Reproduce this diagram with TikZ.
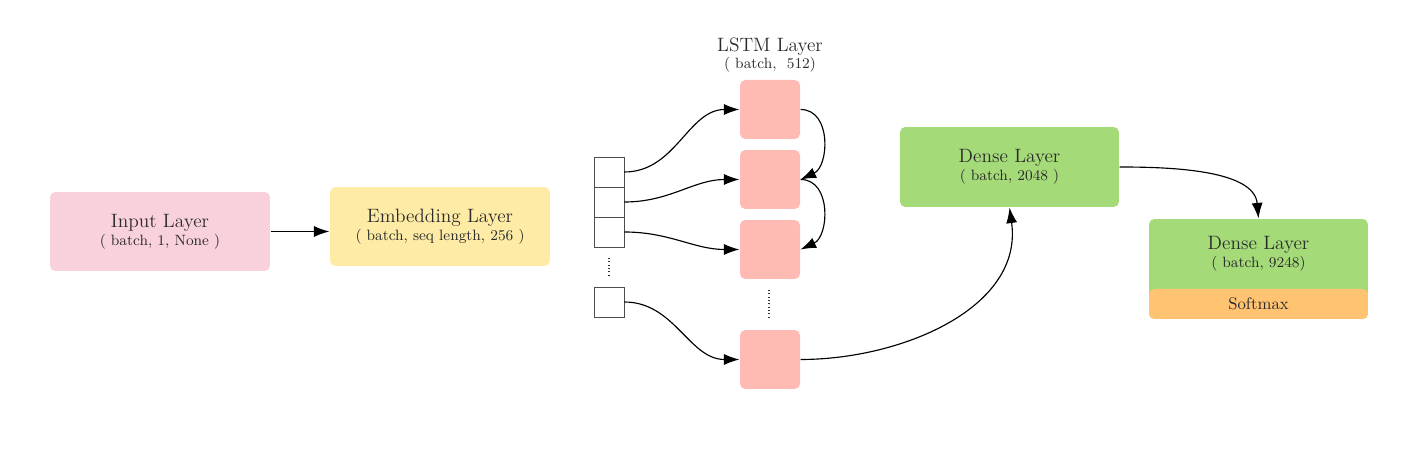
\documentclass[tikz,border=0pt]{standalone}
\usepackage{tikz}
\usetikzlibrary{arrows.meta, positioning, shapes}
\definecolor{inputpink}{HTML}{F9D1DC}
\definecolor{embedyellow}{HTML}{FEEBA5}
\definecolor{lstmred}{HTML}{FFBBB3}
\definecolor{densegreen}{HTML}{A5DA79}
\definecolor{softorange}{HTML}{FFC372}
\definecolor{txtgray}{HTML}{2A2A2A}
\tikzstyle{layer} = [rectangle, rounded corners=3pt, draw=none, align=center,
    text=txtgray, font=\fontsize{11}{11}\selectfont,
    minimum width=4.4cm, minimum height=1.58cm, inner sep=0pt]
\tikzstyle{cell} = [rectangle, rounded corners=3pt, fill=lstmred,
    minimum width=1.2cm, minimum height=1.18cm, inner sep=0pt]
\tikzstyle{token} = [rectangle, draw=black!70, line width=0.4pt,
    minimum size=0.6cm, inner sep=0pt]
\tikzstyle{dots} = [draw=black!80, line width=0.6pt, dash pattern=on 0.6pt off 1.3pt]
\newcommand{\sub}[1]{\\[-1pt]{\fontsize{8.5}{9}\selectfont #1}}

\begin{document}
\begin{tikzpicture}[x=0.02cm, y=-0.02cm,
          > = {Latex[length=3.1mm, width=2.2mm]}, % arrow head style
          line width=0.65pt
      ]
  \useasboundingbox (0,0) rectangle (1420,465);

  % Draw the layers.
  \node[layer, fill=inputpink] (inp) at (160, 231.5) {Input Layer\sub{( batch, 1, None )}};
  \node[layer, fill=embedyellow] (emb) at (440, 226.5) {Embedding Layer\sub{( batch, seq length, 256 )}};

  % Sequence tokens
  \node[token] (s1) at (609, 172) {};
  \node[token] (s2) at (609, 202) {};
  \node[token] (s3) at (609, 232) {};
  \node[token] (s4) at (609, 302) {};
  \path[dots] (609, 258) -- (609, 276);

  % LSTM cells
  \node[cell] (l1) at (770, 109.5) {};
  \node[cell] (l2) at (770, 179.5) {};
  \node[cell] (l3) at (770, 249.5) {};
  \node[cell] (l4) at (770, 359.5) {};
  \path[dots] (769, 290) -- (769, 318);
  \node[align=center, text=txtgray, font=\fontsize{11}{11}\selectfont] (lstm) at (770, 55)
      {LSTM Layer\sub{( batch,~~512)}};

  % Dense layers
  \node[layer, fill=densegreen, minimum width=4.38cm, minimum height=1.6cm] (d1) at (1009.5, 167)
      {Dense Layer\sub{( batch, 2048 )}};
  \node[layer, fill=densegreen, minimum width=4.38cm, minimum height=2cm] (d2) at (1258.5, 269) {};
  \node[align=center, text=txtgray, font=\fontsize{11}{11}\selectfont] (d2t) at (1258.5, 254)
      {Dense Layer\sub{( batch, 9248)}};
  \node[layer, fill=softorange, minimum width=4.38cm, minimum height=0.6cm,
      font=\fontsize{9.5}{10}\selectfont] (soft) at (1258.5, 304) {Softmax};

  % Connect layers with edges
  \path[->] (inp.east) edge (emb.west |- inp.east);
  \path[->] (s1.east) edge[out=0, in=180] (l1.west);
  \path[->] (s2.east) edge[out=0, in=180] (l2.west);
  \path[->] (s3.east) edge[out=0, in=180] (l3.west);
  \path[->] (s4.east) edge[out=0, in=180] (l4.west);

  \path[->] (l1.east) edge[out=0, in=25, looseness=1.15] (l2.east);
  \path[->] (l2.east) edge[out=0, in=25, looseness=1.15] (l3.east);

  \path[->] (l4.east) edge[out=0, in=-82, looseness=1.0] (d1.south);
  \path[->] (d1.east) edge[out=0, in=95, looseness=0.85] (d2.north);
\end{tikzpicture}
\end{document}
